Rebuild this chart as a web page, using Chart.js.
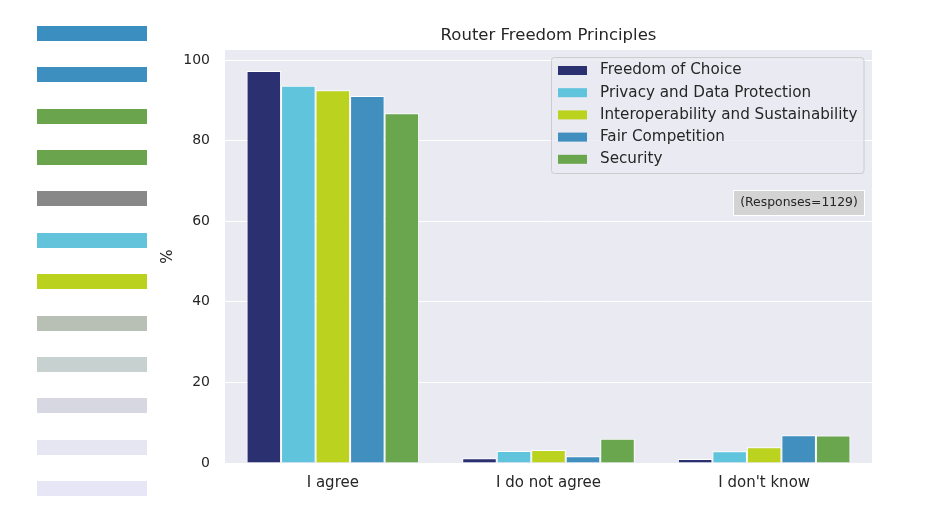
<!DOCTYPE html>
<html><head><meta charset="utf-8">
<script src="https://cdn.jsdelivr.net/npm/chart.js@4.4.0/dist/chart.umd.min.js"></script>
<style>
html,body{margin:0;padding:0;background:#fff;}
#wrap{position:relative;width:928px;height:522px;overflow:hidden;}
#c{position:absolute;left:0;top:0;}
.sw{position:absolute;left:37px;width:110px;height:15px;}
</style></head><body>
<div id="wrap"><canvas id="c" width="928" height="522"></canvas></div>
<script>
// ---- data ----
const categories = ["I agree", "I do not agree", "I don't know"];
const seriesNames = ["Freedom of Choice", "Privacy and Data Protection", "Interoperability and Sustainability", "Fair Competition", "Security"];
const freedomOfChoice = [97.3, 1.2, 1.0];
const privacyDataProtection = [93.6, 3.0, 2.9];
const interoperabilitySustainability = [92.5, 3.2, 3.9];
const fairCompetition = [91.1, 1.7, 6.9];
const security = [86.8, 6.0, 6.8];
const seriesColors = ["#2b3170", "#5fc4dc", "#bbd21f", "#418fbf", "#6aa64e"];
const yTicks = [0, 20, 40, 60, 80, 100];
const swatchColors = ["#3a8fc0", "#3d8fbf", "#6aa54d", "#6aa54d", "#888888", "#62c3da", "#bad21e", "#b8bfb5", "#c7d1cf", "#d6d7e0", "#e6e6f2", "#e6e6f6"];
const titleText = "Router Freedom Principles";
const yAxisTitle = "%";
const noteText = "(Responses=1129)";

// ---- decorative swatches ----
const wrap = document.getElementById('wrap');
swatchColors.forEach((col, i) => {
  const d = document.createElement('div');
  d.className = 'sw';
  d.style.top = (26 + i * 41.36).toFixed(1) + 'px';
  d.style.background = col;
  wrap.appendChild(d);
});

const FONT = "'DejaVu Sans', 'Liberation Sans', sans-serif";
const TXT = "#262626";
const seriesValues = [freedomOfChoice, privacyDataProtection, interoperabilitySustainability, fairCompetition, security];

const decor = {
  id: 'decor',
  beforeDraw(chart) {
    const {ctx, chartArea: a} = chart;
    ctx.save();
    ctx.fillStyle = '#eaeaf2';
    ctx.fillRect(a.left, a.top, a.right - a.left, a.bottom - a.top);
    ctx.restore();
  },
  afterDraw(chart) {
    const {ctx, chartArea: a} = chart;
    ctx.save();
    // title
    ctx.fillStyle = TXT;
    ctx.font = "16.5px " + FONT;
    ctx.textAlign = 'center';
    ctx.textBaseline = 'middle';
    ctx.fillText(titleText, (a.left + a.right) / 2, 36);
    // legend
    const lx = 551.5, ly = 57.5, lw = 312.5, lh = 116, r = 3;
    ctx.beginPath();
    ctx.roundRect(lx, ly, lw, lh, r);
    ctx.fillStyle = 'rgba(234,234,242,0.8)';
    ctx.fill();
    ctx.strokeStyle = '#cccccc';
    ctx.lineWidth = 1;
    ctx.stroke();
    ctx.font = "15.2px " + FONT;
    ctx.textAlign = 'left';
    chart.data.datasets.forEach((ds, i) => {
      const cy = 70.5 + i * 22.2;
      ctx.fillStyle = ds.backgroundColor;
      ctx.fillRect(558, cy - 4.5, 29, 9);
      ctx.fillStyle = TXT;
      ctx.fillText(ds.label, 600, cy);
    });
    // note box
    ctx.fillStyle = '#d3d3d3';
    ctx.fillRect(733.5, 190.5, 131, 25);
    ctx.strokeStyle = '#ffffff';
    ctx.strokeRect(733.5, 190.5, 131, 25);
    ctx.fillStyle = TXT;
    ctx.font = "12.4px " + FONT;
    ctx.textAlign = 'center';
    ctx.fillText(noteText, 799, 203);
    ctx.restore();
  }
};

new Chart(document.getElementById('c'), {
  type: 'bar',
  data: {
    labels: categories,
    datasets: seriesNames.map((n, i) => ({
      label: n,
      data: seriesValues[i],
      backgroundColor: seriesColors[i],
      borderColor: '#ffffff',
      borderWidth: 1,
      categoryPercentage: 0.8,
      barPercentage: 1.0
    }))
  },
  options: {
    responsive: false,
    animation: false,
    devicePixelRatio: 1,
    layout: { padding: { left: 155, right: 56, top: 50, bottom: 0 } },
    plugins: { legend: { display: false }, title: { display: false }, tooltip: { enabled: false } },
    scales: {
      x: {
        grid: { display: false, drawTicks: false },
        border: { display: false },
        ticks: { color: TXT, font: { family: FONT, size: 15 }, padding: 11 },
        afterFit(s) { s.height = 59; }
      },
      y: {
        min: 0, max: 102.5,
        grid: { color: '#ffffff', lineWidth: 1, drawTicks: false },
        border: { display: false },
        ticks: { color: TXT, font: { family: FONT, size: 14 }, padding: 15 },
        afterBuildTicks(s) { s.ticks = yTicks.map(v => ({ value: v })); },
        title: { display: true, text: yAxisTitle, color: TXT, font: { family: FONT, size: 15 }, padding: { top: 4, bottom: 4 } },
        afterFit(s) { s.width = 70; }
      }
    }
  },
  plugins: [decor]
});
</script>
</body></html>
